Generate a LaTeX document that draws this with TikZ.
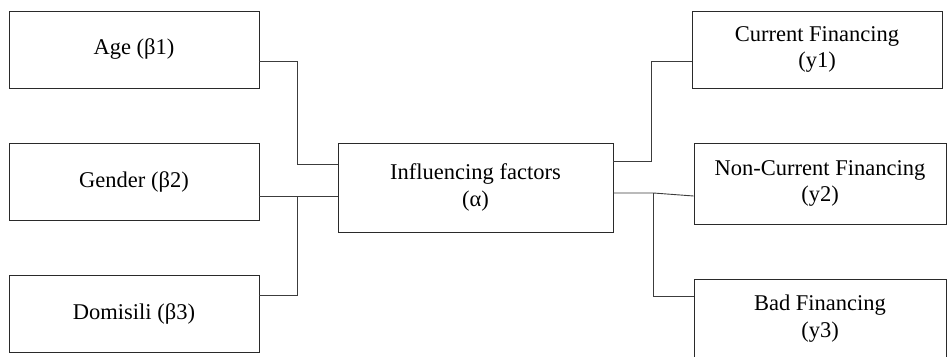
\documentclass[tikz,border=0pt]{standalone}
\usepackage{fontspec}
\setmainfont{Liberation Serif}
\definecolor{boxline}{HTML}{2A2A2A}
\definecolor{wire}{HTML}{3C3C3C}
\usetikzlibrary{positioning,calc}
\tikzset{
  box/.style={draw=boxline,line width=0.9pt,inner sep=0pt,align=center,
    minimum width=250pt,minimum height=77pt,font=\fontsize{22.5}{26.5}\selectfont},
  link/.style={draw=wire,line width=0.9pt}
}
\begin{document}
\begin{tikzpicture}[x=1pt,y=-1pt]
    \useasboundingbox (0,0) rectangle (947,356);
    % predictors
    \node[box] (age) at (134,49.5) {Age (β1)};
    \node[box] (gen) at (134,181.5) {Gender (β2)};
    \node[box] (dom) at (134,313.5) {Domisili (β3)};
    % centre
    \node[box,minimum width=275pt,minimum height=89pt] (cen) at (475.5,187.5) {Influencing factors\\(α)};
    % outcomes
    \node[box] (cur) at (817,49.5) {Current Financing\\(y1)};
    \node[box,minimum width=252pt,minimum height=81pt] (non) at (820,183.5) {Non-Current Financing\\(y2)};
    \node[box,minimum width=252pt,minimum height=79pt] (bad) at (820,318.5) {Bad Financing\\(y3)};
    % junctions
    \coordinate (lj) at ([xshift=-40pt,yshift=-9pt]cen.west);
    \coordinate (rj) at ([xshift=40pt,yshift=-5.5pt]cen.east);
    % left wires
    \draw[link] ([yshift=-11.5pt]age.east) -| ([xshift=-40pt,yshift=23.5pt]cen.west) -- ([yshift=23.5pt]cen.west);
    \draw[link] (gen.east |- lj) -- (cen.west |- lj);
    \draw[link] ([yshift=18.5pt]dom.east) -| (lj);
    % right wires
    \draw[link] ([yshift=26.5pt]cen.east) -| ([xshift=-40pt,yshift=-11.5pt]cur.west) -- ([yshift=-11.5pt]cur.west);
    \draw[link] ([yshift=-5.5pt]cen.east) -- (rj) -- ([yshift=-12.5pt]non.west);
    \draw[link] (rj) |- ([yshift=22.5pt]bad.west);
\end{tikzpicture}
\end{document}
